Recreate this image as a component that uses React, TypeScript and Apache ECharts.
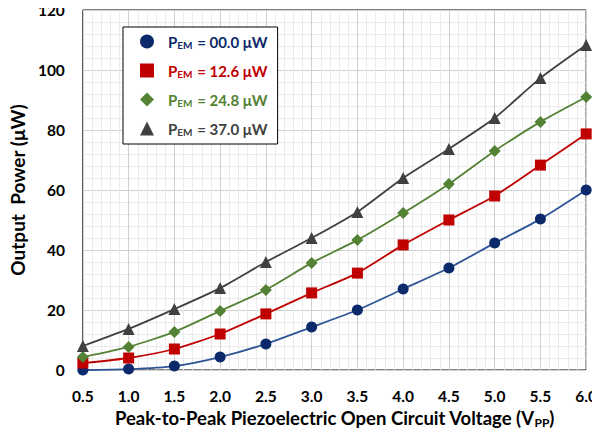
import React, { useEffect, useRef } from "react";
import * as echarts from "echarts";

const voltages = [0.5, 1.0, 1.5, 2.0, 2.5, 3.0, 3.5, 4.0, 4.5, 5.0, 5.5, 6.0];
const seriesNames = ["P00", "P12", "P24", "P37"];
const legendValues = ["00.0", "12.6", "24.8", "37.0"];
const pem0 = [0, 0.3, 1.3, 4.3, 8.7, 14.3, 20, 27, 34, 42.3, 50.3, 60];
const pem12 = [2.3, 4, 7, 12, 18.7, 25.7, 32.3, 41.7, 50, 58, 68.3, 78.7];
const pem24 = [4.3, 7.7, 12.7, 19.7, 26.7, 35.7, 43.3, 52.3, 62, 73, 82.7, 91];
const pem37 = [8, 13.7, 20.3, 27.3, 36, 44, 52.7, 64, 73.7, 84, 97.3, 108.3];
const yTicks = [0, 20, 40, 60, 80, 100, 120];

const dataSets = [pem0, pem12, pem24, pem37];
const lineColors = ["#2F5597", "#C00000", "#548235", "#404040"];
const markerColors = ["#0C2A6B", "#C00000", "#548235", "#404040"];
const textColors = ["#0C2A6B", "#C00000", "#548235", "#404040"];
const symbols = ["circle", "rect", "diamond", "triangle"];
const symbolSizes = [11, 11, 12, 12];

const FONT = "Lato, 'Open Sans', sans-serif";

export default function App() {
  const ref = useRef<HTMLDivElement>(null);
  useEffect(() => {
    if (!ref.current) return;
    const chart = echarts.init(ref.current, undefined, { renderer: "svg" });
    const rich: any = {};
    textColors.forEach((c, i) => {
      rich["a" + i] = { color: c, fontSize: 15, fontWeight: "bold", fontFamily: FONT };
      rich["b" + i] = { color: c, fontSize: 10, fontWeight: "bold", fontFamily: FONT, padding: [7, 1, 0, 0] };
    });
    chart.setOption({
      animation: false,
      backgroundColor: "#ffffff",
      grid: { left: 78, right: 13, top: 10, bottom: 67, containLabel: false, show: true, borderColor: "#000", borderWidth: 1 },
      legend: {
        orient: "vertical",
        left: 123,
        top: 27,
        width: 150,
        padding: [7, 10, 7, 17],
        itemGap: 13,
        itemWidth: 14,
        itemHeight: 14,
        backgroundColor: "#ffffff",
        borderColor: "#000",
        borderWidth: 1,
        data: seriesNames.map((n, i) => ({ name: n, icon: symbols[i], itemStyle: { color: markerColors[i] } })),
        formatter: (name: string) => {
          const i = seriesNames.indexOf(name);
          return `{a${i}|P}{b${i}|EM}{a${i}| = ${legendValues[i]} μW}`;
        },
        textStyle: { rich, padding: [0, 0, 0, 9] },
      },
      xAxis: {
        type: "value",
        min: 0.5,
        max: 6,
        interval: 0.5,
        name: "{t|Peak-to-Peak Piezoelectric Open Circuit Voltage (V}{s|PP}{t|)}",
        nameLocation: "middle",
        nameGap: 35,
        nameTextStyle: {
          rich: {
            t: { fontSize: 18.5, fontWeight: "bold", color: "#000", fontFamily: FONT },
            s: { fontSize: 12, fontWeight: "bold", color: "#000", fontFamily: FONT, padding: [9, 0, 0, 0] },
          },
        },
        axisLine: { show: false },
        axisTick: { show: false },
        axisLabel: {
          formatter: (v: number) => v.toFixed(1),
          fontSize: 15.5,
          fontWeight: "bold",
          color: "#000",
          fontFamily: FONT,
          margin: 18,
        },
        splitLine: { show: true, lineStyle: { color: "#D0D0D0", width: 1 } },
        minorTick: { show: false, splitNumber: 5 },
        minorSplitLine: { show: true, lineStyle: { color: "#EBEBEB", width: 1 } },
      },
      yAxis: {
        type: "value",
        min: yTicks[0],
        max: yTicks[yTicks.length - 1],
        interval: 20,
        name: "Output  Power (μW)",
        nameLocation: "middle",
        nameGap: 48,
        nameTextStyle: { fontSize: 19, fontWeight: "bold", color: "#000", fontFamily: FONT },
        axisLine: { show: false },
        axisTick: { show: false },
        axisLabel: {
          fontSize: 15.5,
          fontWeight: "bold",
          color: "#000",
          fontFamily: FONT,
          margin: 18,
          verticalAlign: "middle",
          padding: [3, 0, 0, 0],
        },
        splitLine: { show: true, lineStyle: { color: "#D0D0D0", width: 1 } },
        minorTick: { show: false, splitNumber: 5 },
        minorSplitLine: { show: true, lineStyle: { color: "#EBEBEB", width: 1 } },
      },
      series: dataSets.map((d, i) => ({
        name: seriesNames[i],
        type: "line",
        data: voltages.map((v, j) => [v, d[j]]),
        smooth: 0.2,
        symbol: symbols[i],
        symbolSize: symbolSizes[i],
        lineStyle: { color: lineColors[i], width: 1.8 },
        itemStyle: { color: markerColors[i] },
        z: 2 + i,
        clip: false,
      })),
    });
    return () => chart.dispose();
  }, []);
  return <div ref={ref} style={{ width: 600, height: 437, margin: -8 }} />;
}
